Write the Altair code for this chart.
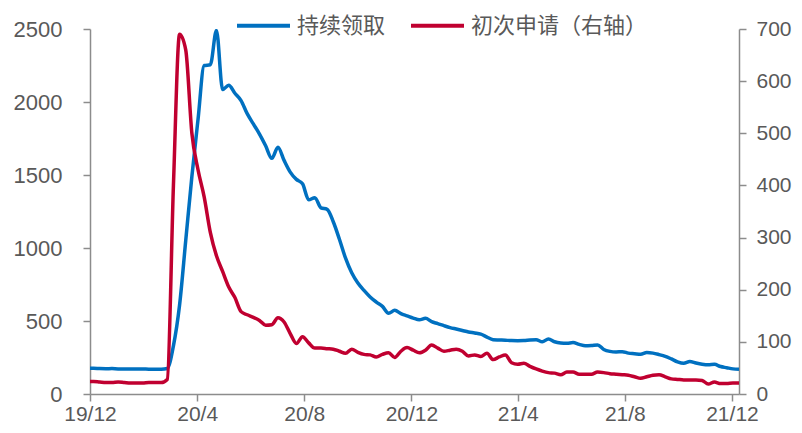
import altair as alt
import pandas as pd

# weekly observations (units: 10k persons)
start_date = "2019-11-28"
continuing = [176, 176, 174, 173, 174, 172, 172, 172, 171, 171, 170, 170, 170,
              175, 330, 610, 1050, 1490, 1880, 2250, 2255, 2490, 2085, 2115, 2060,
              2010, 1920, 1850, 1780, 1700, 1614, 1690, 1600, 1520, 1470, 1440, 1330,
              1345, 1275, 1265, 1180, 1060, 930, 830, 760, 710, 665, 630, 600, 553,
              573, 550, 535, 520, 508, 518, 495, 482, 468, 455, 445, 435, 425, 418,
              410, 390, 372, 370, 368, 366, 365, 366, 370, 372, 358, 377, 358, 350,
              348, 352, 340, 330, 332, 336, 305, 292, 288, 290, 280, 276, 272, 284,
              280, 270, 258, 240, 220, 210, 222, 212, 204, 200, 203, 188, 180, 172, 169]
initial = [24, 24, 23, 22, 22, 23, 22, 21, 21, 21, 22, 22, 22,
           28, 400, 690, 660, 500, 430, 378, 310, 265, 235, 205, 185,
           158, 152, 147, 141, 132, 133, 146, 138, 116, 97, 110, 98,
           88, 88, 87, 86, 82, 78, 86, 80, 76, 75, 71, 76, 79,
           70, 82, 89, 84, 79, 84, 94, 88, 82, 84, 86, 82, 73, 75,
           72, 78, 66, 71, 75, 60, 57, 59, 53, 48, 44, 41, 40, 37,
           42, 42, 38, 38, 38, 42, 41, 39, 38, 37, 36, 33, 30, 33,
           36, 37, 33, 29, 28, 27, 27, 27, 26, 19, 23, 20, 20, 21, 21]

series_names = ["持续领取", "初次申请（右轴）"]
series_colors = ["#0070C0", "#C00030"]
x_ticks = ["2019-12-01", "2020-04-01", "2020-08-01", "2020-12-01",
           "2021-04-01", "2021-08-01", "2021-12-01"]
left_ticks = [0, 500, 1000, 1500, 2000, 2500]
right_ticks = [0, 100, 200, 300, 400, 500, 600, 700]

dates = pd.date_range(start_date, periods=len(continuing), freq="7D")
df = pd.DataFrame({
    "date": list(dates) * 2,
    "series": [series_names[0]] * len(continuing) + [series_names[1]] * len(initial),
    "value": continuing + initial,
})

axis_grey = "#8C8C8C"
label_grey = "#595959"
num_font = "Liberation Sans"

x_enc = alt.X("date:T",
              scale=alt.Scale(domain=["2019-12-01", "2021-12-09"]),
              axis=alt.Axis(values=x_ticks, format="%y/%-m", title=None,
                            labelFont=num_font, labelFontSize=21, labelColor=label_grey,
                            domainColor=axis_grey, domainWidth=1.5, tickColor=axis_grey,
                            tickWidth=1.5, tickSize=7, labelPadding=2, grid=False,
                            labelFlush=False))

color_enc = alt.Color("series:N",
                      scale=alt.Scale(domain=series_names, range=series_colors),
                      legend=alt.Legend(orient="none", legendX=145, legendY=-32,
                                        direction="horizontal", title=None,
                                        symbolType="stroke", symbolStrokeWidth=4,
                                        symbolSize=2809, labelFont="Noto Sans CJK SC",
                                        labelFontSize=22, labelColor=label_grey,
                                        labelOffset=5, columnPadding=17, labelLimit=400))

base = alt.Chart(df).mark_line(strokeWidth=3.5, interpolate="monotone", clip=True)

left = base.transform_filter(alt.datum.series == series_names[0]).encode(
    x=x_enc,
    y=alt.Y("value:Q", scale=alt.Scale(domain=[0, 2500]),
            axis=alt.Axis(values=left_ticks, format="d", title=None, orient="left",
                          grid=False, labelFont=num_font, labelFontSize=22,
                          labelColor=label_grey, domainColor=axis_grey, domainWidth=1.5,
                          tickColor=axis_grey, tickWidth=1.5, tickSize=7,
                          labelPadding=21)),
    color=color_enc,
)

right = base.transform_filter(alt.datum.series == series_names[1]).encode(
    x=x_enc,
    y=alt.Y("value:Q", scale=alt.Scale(domain=[0, 700]),
            axis=alt.Axis(values=right_ticks, format="d", title=None, orient="right",
                          grid=False, labelFont=num_font, labelFontSize=21,
                          labelColor=label_grey, domainColor=axis_grey, domainWidth=1.5,
                          tickColor=axis_grey, tickWidth=1.5, tickSize=7,
                          labelPadding=10)),
    color=color_enc,
)

chart = alt.layer(left, right).resolve_scale(y="independent").properties(
    width=649, height=365,
    autosize=alt.AutoSizeParams(type="none"),
    padding={"left": 82, "top": 21, "right": 55, "bottom": 31},
    background="white",
).configure_view(stroke=None)

chart.save("out.html", embed_options={"renderer": "svg", "actions": False})
